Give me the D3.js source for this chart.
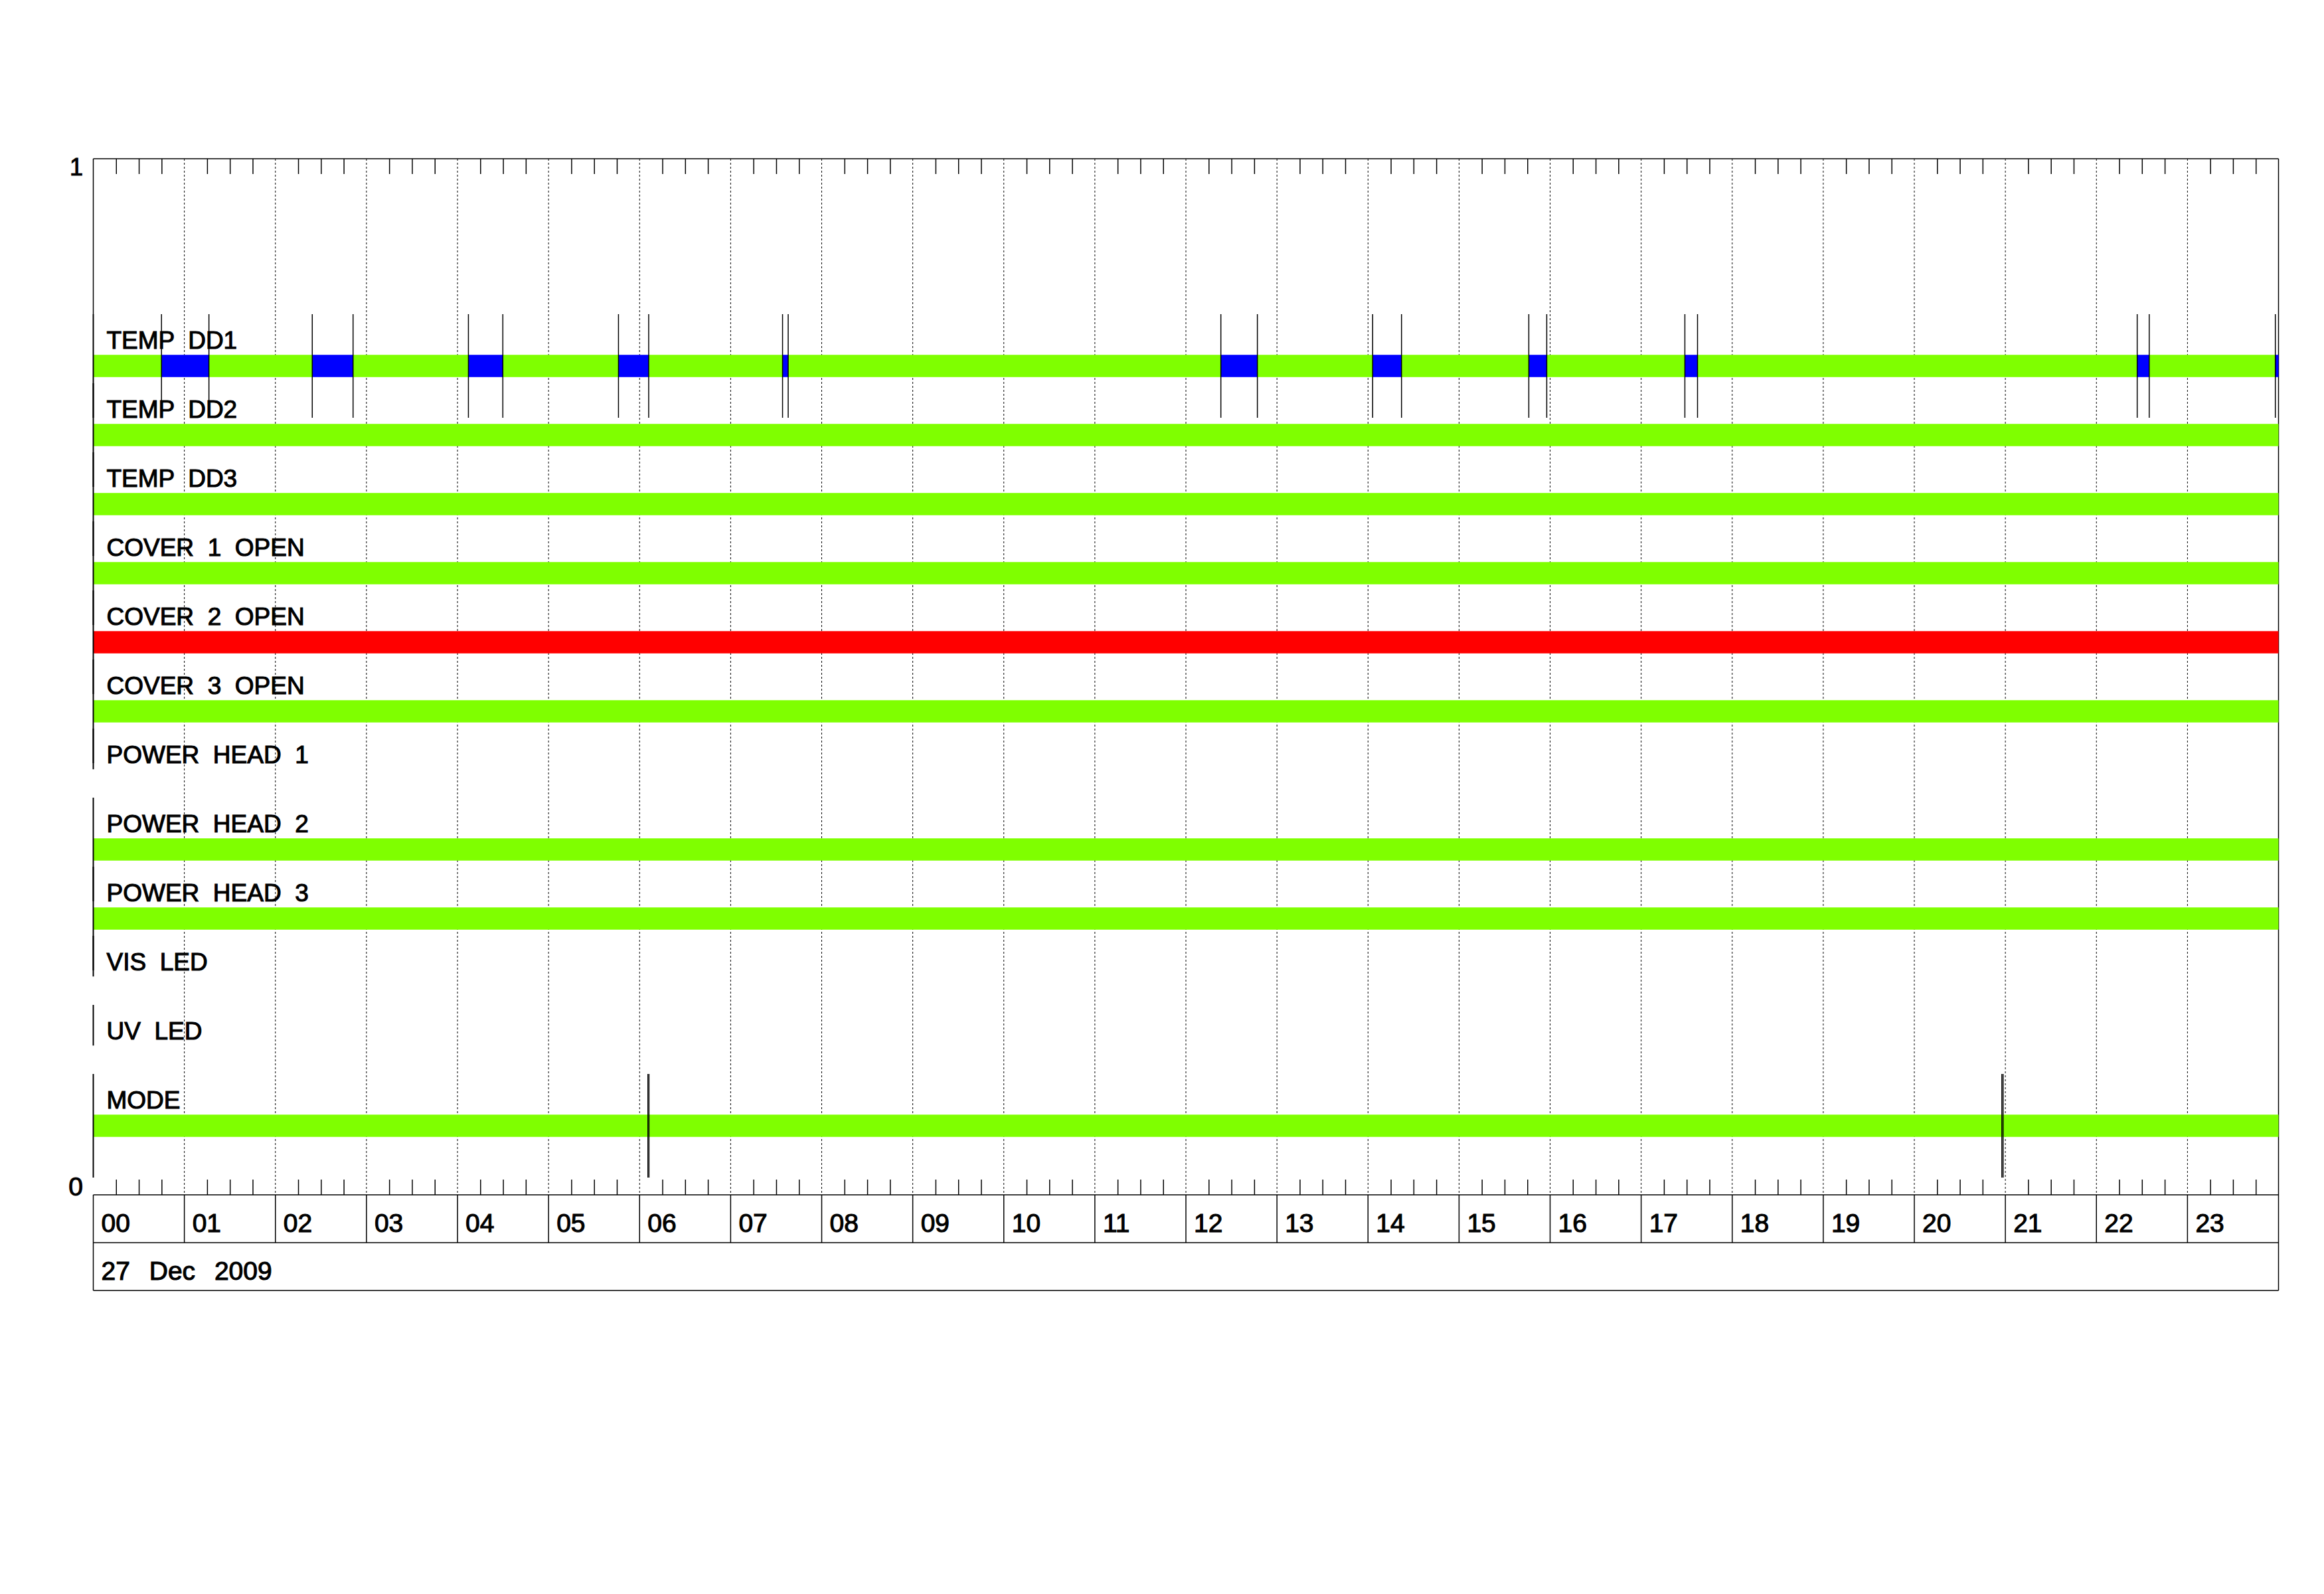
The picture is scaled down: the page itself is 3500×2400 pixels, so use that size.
<!DOCTYPE html>
<html>
<head>
<meta charset="utf-8">
<script src="https://cdn.jsdelivr.net/npm/d3@7/dist/d3.min.js"></script>
<style>
  html, body { margin: 0; padding: 0; background: #fff; }
  text { font-family: "Liberation Sans", Arial, sans-serif; fill: #000; stroke: #000; stroke-width: 1.1px; }
</style>
</head>
<body>
<svg id="chart" width="3500" height="2400"></svg>
<script>
// ---------------- DATA ----------------
const rowLabels = ["TEMP  DD1", "TEMP  DD2", "TEMP  DD3", "COVER  1  OPEN", "COVER  2  OPEN",
  "COVER  3  OPEN", "POWER  HEAD  1", "POWER  HEAD  2", "POWER  HEAD  3", "VIS  LED", "UV  LED", "MODE"];
// row value on the 0..1 y axis
const rowValues = [12/15, 11/15, 10/15, 9/15, 8/15, 7/15, 6/15, 5/15, 4/15, 3/15, 2/15, 1/15];

// segment boundaries (hours) and states per row; null = no data
const dd1Times  = [0, 0.749, 1.270, 2.405, 2.853, 4.120, 4.498, 5.768, 6.100, 7.570, 7.632,
                   12.384, 12.785, 14.051, 14.368, 15.766, 15.963, 17.480, 17.619, 22.448, 22.580, 23.965, 24];
const dd1States = ["ok","warn","ok","warn","ok","warn","ok","warn","ok","warn","ok",
                   "warn","ok","warn","ok","warn","ok","warn","ok","warn","ok","warn"];
const okTimes   = [0, 24];
const okStates  = ["ok"];
const errTimes  = [0, 24];
const errStates = ["err"];
const modeTimes  = [0, 6.091, 6.103, 20.961, 20.975, 24];
const modeStates = ["ok", "ok", "ok", "ok", "ok"];

const rowTimes  = [dd1Times, okTimes, okTimes, okTimes, errTimes, okTimes, null, okTimes, okTimes, null, null, modeTimes];
const rowStates = [dd1States, okStates, okStates, okStates, errStates, okStates, null, okStates, okStates, null, null, modeStates];

const hourLabels = ["00","01","02","03","04","05","06","07","08","09","10","11",
                    "12","13","14","15","16","17","18","19","20","21","22","23"];
const dateLabel = "27 Dec 2009";
const yTickLabels = ["0", "1"];

// ---------------- DRAW ----------------
const stateColor = { ok: "#7fff00", warn: "#0000ff", err: "#ff0000" };
const svg = d3.select("#chart");
svg.append("rect").attr("width", 3500).attr("height", 2400).attr("fill", "#fff");

const x = d3.scaleLinear().domain([0, 24]).range([140.5, 3431.5]);
const y = d3.scaleLinear().domain([0, 1]).range([1799, 239]);
const X0 = x(0), X1 = x(24), YT = y(1), YB = y(0);
const barHalf = 16.75;       // px
const markHalf = 0.05;       // value units
const hourRowH = 72, dateRowH = 72;

// dashed hour gridlines
svg.append("g").selectAll("line").data(d3.range(1, 24)).join("line")
  .attr("x1", d => x(d)).attr("x2", d => x(d))
  .attr("y1", YT).attr("y2", YB)
  .attr("stroke", "#000").attr("stroke-width", 1).attr("stroke-dasharray", "3,3");

// minor ticks (15 min)
const minorVals = d3.range(0, 24, 0.25).filter(v => Math.abs(v - Math.round(v)) > 1e-6);
const topAxis = d3.axisBottom(x).tickValues(minorVals).tickSize(23).tickFormat("");
const gTop = svg.append("g").attr("transform", `translate(0,${YT})`).call(topAxis);
const botAxis = d3.axisTop(x).tickValues(minorVals).tickSize(23).tickFormat("");
const gBot = svg.append("g").attr("transform", `translate(0,${YB})`).call(botAxis);
[gTop, gBot].forEach(g => {
  g.select(".domain").remove();
  g.selectAll(".tick line").attr("stroke", "#000").attr("stroke-width", 1.5);
});

// frame lines
const frame = svg.append("g").attr("stroke", "#000").attr("stroke-width", 1.5);
frame.append("line").attr("x1", X0).attr("x2", X1).attr("y1", YT).attr("y2", YT);
frame.append("line").attr("x1", X0).attr("x2", X1).attr("y1", YB).attr("y2", YB);
frame.append("line").attr("x1", X1).attr("x2", X1).attr("y1", YT).attr("y2", YB);
frame.append("line").attr("x1", X0).attr("x2", X0).attr("y1", YT).attr("y2", y(rowValues[0] + markHalf));

// y tick labels
svg.append("text").attr("x", 125).attr("y", YT + 25).attr("text-anchor", "end")
  .attr("font-size", 36).text(yTickLabels[1]);
svg.append("text").attr("x", 125).attr("y", YB + 1).attr("text-anchor", "end")
  .attr("font-size", 39).text(yTickLabels[0]);

// rows
rowLabels.forEach((label, i) => {
  const v = rowValues[i];
  const cy = y(v);
  const g = svg.append("g");
  const times = rowTimes[i], states = rowStates[i];
  if (times) {
    const segs = states.map((s, k) => ({ s, a: times[k], b: times[k + 1] }));
    g.selectAll("rect").data(segs).join("rect")
      .attr("x", d => x(d.a)).attr("width", d => x(d.b) - x(d.a))
      .attr("y", cy - barHalf).attr("height", 2 * barHalf)
      .attr("fill", d => stateColor[d.s]);
    const marks = times.slice(0, -1);
    g.selectAll("line").data(marks).join("line")
      .attr("x1", d => x(d)).attr("x2", d => x(d))
      .attr("y1", y(v + markHalf)).attr("y2", y(v - markHalf))
      .attr("stroke", "#000").attr("stroke-width", d => d === 0 ? 2 : 1.5);
  } else {
    g.append("line").attr("x1", X0).attr("x2", X0)
      .attr("y1", y(v + markHalf)).attr("y2", cy - barHalf)
      .attr("stroke", "#000").attr("stroke-width", 2);
  }
  g.append("text").attr("x", X0 + 20).attr("y", cy - barHalf - 9)
    .attr("font-size", 37).style("white-space", "pre").text(label);
});

// hour label row
const gb = svg.append("g").attr("stroke", "#000").attr("stroke-width", 1.5);
gb.selectAll("line.h").data(d3.range(0, 25)).join("line").attr("class", "h")
  .attr("x1", d => x(d)).attr("x2", d => x(d)).attr("y1", YB).attr("y2", YB + hourRowH);
gb.append("line").attr("x1", X0).attr("x2", X1).attr("y1", YB + hourRowH).attr("y2", YB + hourRowH);
gb.append("line").attr("x1", X0).attr("x2", X0).attr("y1", YB + hourRowH).attr("y2", YB + hourRowH + dateRowH);
gb.append("line").attr("x1", X1).attr("x2", X1).attr("y1", YB + hourRowH).attr("y2", YB + hourRowH + dateRowH);
gb.append("line").attr("x1", X0).attr("x2", X1).attr("y1", YB + hourRowH + dateRowH).attr("y2", YB + hourRowH + dateRowH);

svg.append("g").selectAll("text").data(hourLabels).join("text")
  .attr("x", (d, i) => x(i) + 12).attr("y", YB + 56)
  .attr("font-size", 39).text(d => d);

svg.append("text").attr("x", X0 + 12).attr("y", YB + hourRowH + 56)
  .attr("font-size", 39).attr("word-spacing", 18).text(dateLabel);
</script>
</body>
</html>
